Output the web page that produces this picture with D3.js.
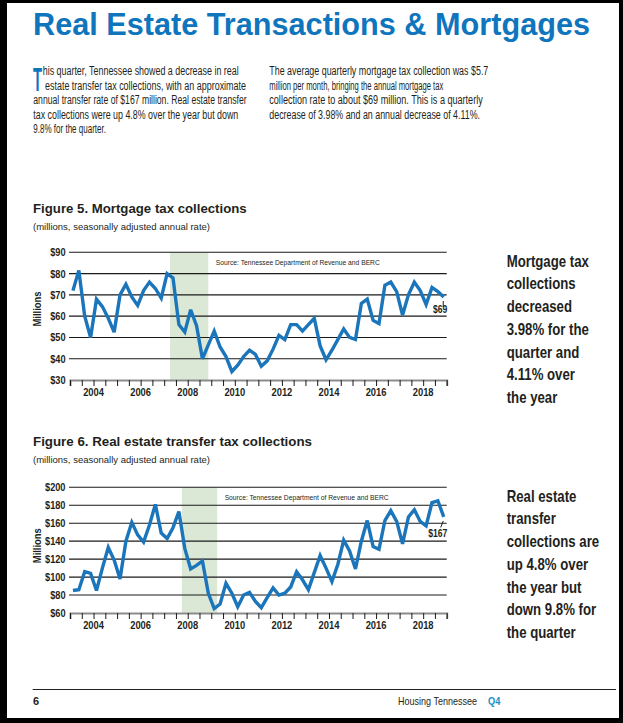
<!DOCTYPE html>
<html>
<head>
<meta charset="utf-8">
<script src="https://cdn.jsdelivr.net/npm/d3@7"></script>
<style>
  html, body { margin: 0; padding: 0; background: #000; }
  svg { display: block; }
</style>
</head>
<body>
<div id="page"></div>
<script>
// Quarterly series, 2003 Q1 .. 2018 Q4 (millions, SAAR)
const mortgageTax = [
  72, 81.5, 60, 50, 68, 64.5, 59, 52.5,
  70, 75, 69, 65, 72, 76, 73, 68.5,
  80, 78, 56, 52.5, 63, 55.5, 40, 46.5,
  53, 45.5, 41, 34, 37, 41, 44, 42,
  36.5, 39, 44.5, 51, 49, 56, 56, 53,
  56, 59, 46, 39.5, 44, 49, 54, 50,
  49, 66, 68, 58, 56.5, 74.5, 76, 71.5,
  60.5, 70, 76, 72, 65.5, 73.5, 71.5, 69
];
const transferTax = [
  85, 86, 106, 104, 85, 110, 133, 119,
  98, 140, 161, 147, 139, 158, 181, 149,
  143, 155, 173, 132, 109, 113, 118, 82,
  65, 70, 93, 82, 67, 80, 83, 73,
  66, 77, 88, 80, 82, 89, 106, 97,
  86, 105, 124, 110, 95, 114, 141, 129,
  109, 140, 163, 134, 131, 163, 174, 162,
  137, 167, 175, 162, 157, 183, 185, 167
];
const startYear = 2003;
const endYear = 2019;
const yearLabels = [2004, 2006, 2008, 2010, 2012, 2014, 2016, 2018];
const mortgageTicks = [30, 40, 50, 60, 70, 80, 90];
const transferTicks = [60, 80, 100, 120, 140, 160, 180, 200];
const mortgageRecession = [2007.25, 2008.875];
const transferRecession = [2007.75, 2009.25];

const W = 623, H = 723;
const blue = "#1b75bb";
const ink = "#231f20";
const sans = "'Liberation Sans', Arial, sans-serif";

// squeeze a text to a fraction of its natural width (stand-in for a condensed face)
function condense(sel, k) {
  sel.each(function () {
    const w = this.getComputedTextLength();
    d3.select(this).attr("textLength", w * k).attr("lengthAdjust", "spacingAndGlyphs");
  });
  return sel;
}

const svg = d3.select("#page").append("svg")
  .attr("width", W).attr("height", H);

svg.append("rect").attr("width", W).attr("height", H).attr("fill", "#000");
svg.append("rect").attr("x", 7).attr("y", 3).attr("width", 612).attr("height", 715).attr("fill", "#fff");

// Title
svg.append("text")
  .attr("x", 33).attr("y", 35)
  .attr("textLength", 557).attr("lengthAdjust", "spacingAndGlyphs")
  .style("font-family", sans).style("font-weight", "bold").style("font-size", "31px")
  .attr("fill", "#0f75bd")
  .text("Real Estate Transactions & Mortgages");

// Intro paragraphs
svg.append("text")
  .attr("x", 33).attr("y", 91)
  .attr("textLength", 9).attr("lengthAdjust", "spacingAndGlyphs")
  .style("font-family", sans).style("font-weight", "bold").style("font-size", "34px")
  .attr("fill", "#0f75bd").text("T");

const paraLines = [
  { x: 42.7, y: 75, w: 196, t: "his quarter, Tennessee showed a decrease in real" },
  { x: 45, y: 89.5, w: 201, t: "estate transfer tax collections, with an approximate" },
  { x: 33.3, y: 104.3, w: 213.4, t: "annual transfer rate of $167 million. Real estate transfer" },
  { x: 33.3, y: 118.7, w: 205, t: "tax collections were up 4.8% over the year but down" },
  { x: 33.3, y: 133, w: 72.7, t: "9.8% for the quarter." },
  { x: 269.3, y: 75, w: 219, t: "The average quarterly mortgage tax collection was $5.7" },
  { x: 269.3, y: 89.5, w: 174, t: "million per month, bringing the annual mortgage tax" },
  { x: 269.3, y: 104.3, w: 213.4, t: "collection rate to about $69 million. This is a quarterly" },
  { x: 269.3, y: 118.7, w: 210.7, t: "decrease of 3.98% and an annual decrease of 4.11%." }
];
svg.selectAll("text.para").data(paraLines).join("text")
  .attr("class", "para")
  .attr("x", d => d.x).attr("y", d => d.y)
  .attr("textLength", d => d.w).attr("lengthAdjust", "spacingAndGlyphs")
  .style("font-family", sans).style("font-size", "12.3px")
  .attr("fill", ink)
  .text(d => d.t);

function drawChart(cfg) {
  const g = svg.append("g");
  const x = d3.scaleLinear().domain([startYear, endYear]).range([70, 446.7]);
  const y = d3.scaleLinear().domain(cfg.domain).range(cfg.range);
  const xq = i => startYear + 0.125 + i * 0.25;

  // titles
  g.append("text").attr("x", 33).attr("y", cfg.titleY)
    .attr("textLength", cfg.titleW).attr("lengthAdjust", "spacingAndGlyphs")
    .style("font-family", sans).style("font-weight", "bold").style("font-size", "13px")
    .attr("fill", ink).text(cfg.title);
  g.append("text").attr("x", 33).attr("y", cfg.titleY + 17.3)
    .attr("textLength", 177).attr("lengthAdjust", "spacingAndGlyphs")
    .style("font-family", sans).style("font-size", "9.5px")
    .attr("fill", ink).text("(millions, seasonally adjusted annual rate)");

  // recession shading
  g.append("rect")
    .attr("x", x(cfg.shade[0])).attr("width", x(cfg.shade[1]) - x(cfg.shade[0]))
    .attr("y", y(cfg.domain[1])).attr("height", y(cfg.domain[0]) - y(cfg.domain[1]))
    .attr("fill", "#dbe8d6");

  // gridlines
  g.selectAll("line.grid").data(cfg.ticks.slice(1)).join("line")
    .attr("class", "grid")
    .attr("x1", x(startYear) - 1).attr("x2", x(endYear))
    .attr("y1", d => y(d)).attr("y2", d => y(d))
    .attr("stroke", "#1a1a1a").attr("stroke-width", 1.1);

  // y labels
  condense(g.selectAll("text.ylab").data(cfg.ticks).join("text")
    .attr("class", "ylab")
    .attr("x", 65.5).attr("y", d => y(d) + 4)
    .attr("text-anchor", "end")
    .style("font-family", sans).style("font-weight", "bold").style("font-size", "11.5px")
    .attr("fill", ink)
    .text(d => "$" + d), 0.8);

  g.append("text")
    .attr("transform", `translate(${40.5},${cfg.millionsY}) rotate(-90)`)
    .attr("text-anchor", "middle")
    .attr("textLength", 35).attr("lengthAdjust", "spacingAndGlyphs")
    .style("font-family", sans).style("font-weight", "bold").style("font-size", "11.5px")
    .attr("fill", ink).text("Millions");

  // x axis
  const axis = d3.axisBottom(x)
    .tickValues(d3.range(startYear, endYear + 0.01, 0.5))
    .tickSize(6).tickFormat("");
  const ax = g.append("g").attr("transform", `translate(0,${y(cfg.domain[0])})`).call(axis);
  ax.select(".domain").attr("stroke", "#8c8c8c").attr("stroke-width", 2);
  ax.selectAll(".tick line").attr("stroke", "#1a1a1a");

  condense(g.selectAll("text.xlab").data(yearLabels).join("text")
    .attr("class", "xlab")
    .attr("x", d => x(d)).attr("y", y(cfg.domain[0]) + 15.5)
    .attr("text-anchor", "middle")
    .style("font-family", sans).style("font-weight", "bold").style("font-size", "11px")
    .attr("fill", ink).text(d => d), 0.85);

  // source
  g.append("text")
    .attr("x", x(cfg.shade[1]) + 7.5).attr("y", y(cfg.domain[1]) + 13)
    .attr("textLength", 164).attr("lengthAdjust", "spacingAndGlyphs")
    .style("font-family", sans).style("font-size", "8px")
    .attr("fill", ink).text("Source: Tennessee Department of Revenue and BERC");

  // series line
  const line = d3.line().x((d, i) => x(xq(i))).y(d => y(d));
  g.append("path").datum(cfg.values)
    .attr("d", line)
    .attr("fill", "none").attr("stroke", blue).attr("stroke-width", 3.4)
    .attr("stroke-linejoin", "miter").attr("stroke-miterlimit", 3);

  // end value label
  const n = cfg.values.length - 1;
  const lx = x(xq(n)), ly = y(cfg.values[n]);
  g.append("line")
    .attr("x1", lx - 0.5).attr("y1", ly + 4)
    .attr("x2", lx - 0.5 - cfg.lead[0]).attr("y2", ly + 4 + cfg.lead[1])
    .attr("stroke", ink).attr("stroke-width", 1);
  condense(g.append("text")
    .attr("x", lx + 3.5).attr("y", ly + cfg.labelDy)
    .attr("text-anchor", "end")
    .style("font-family", sans).style("font-weight", "bold").style("font-size", "11px")
    .attr("fill", ink).text("$" + cfg.values[n]), 0.78);

  // callout text
  condense(g.selectAll("text.callout").data(cfg.callout).join("text")
    .attr("class", "callout")
    .attr("x", 506.7).attr("y", (d, i) => cfg.calloutY + i * 22.7)
    .style("font-family", sans).style("font-weight", "bold").style("font-size", "16.5px")
    .attr("fill", ink).text(d => d), 0.8);
}

drawChart({
  title: "Figure 5. Mortgage tax collections", titleW: 213.7, titleY: 212.5,
  values: mortgageTax, domain: [30, 90], range: [380, 252.3], ticks: mortgageTicks,
  shade: mortgageRecession, millionsY: 309, lead: [0, 6], labelDy: 16,
  callout: ["Mortgage tax", "collections", "decreased", "3.98% for the", "quarter and", "4.11% over", "the year"],
  calloutY: 266.7
});

drawChart({
  title: "Figure 6. Real estate transfer tax collections", titleW: 279, titleY: 445.5,
  values: transferTax, domain: [60, 200], range: [613, 487.3], ticks: transferTicks,
  shade: transferRecession, millionsY: 545.7, lead: [2.5, 6.5], labelDy: 20,
  callout: ["Real estate", "transfer", "collections are", "up 4.8% over", "the year but", "down 9.8% for", "the quarter"],
  calloutY: 501.7
});

// footer
svg.append("line").attr("x1", 32.7).attr("x2", 616).attr("y1", 689.5).attr("y2", 689.5)
  .attr("stroke", ink).attr("stroke-width", 1);
svg.append("text").attr("x", 33).attr("y", 705)
  .style("font-family", sans).style("font-weight", "bold").style("font-size", "11px")
  .attr("fill", ink).text("6");
svg.append("text").attr("x", 398).attr("y", 705)
  .attr("textLength", 79).attr("lengthAdjust", "spacingAndGlyphs")
  .style("font-family", sans).style("font-size", "11.5px")
  .attr("fill", ink).text("Housing Tennessee");
condense(svg.append("text").attr("x", 488).attr("y", 705)
  .style("font-family", sans).style("font-weight", "bold").style("font-size", "11.5px")
  .attr("fill", "#1b8fc4").text("Q4"), 0.8);
</script>
</body>
</html>
